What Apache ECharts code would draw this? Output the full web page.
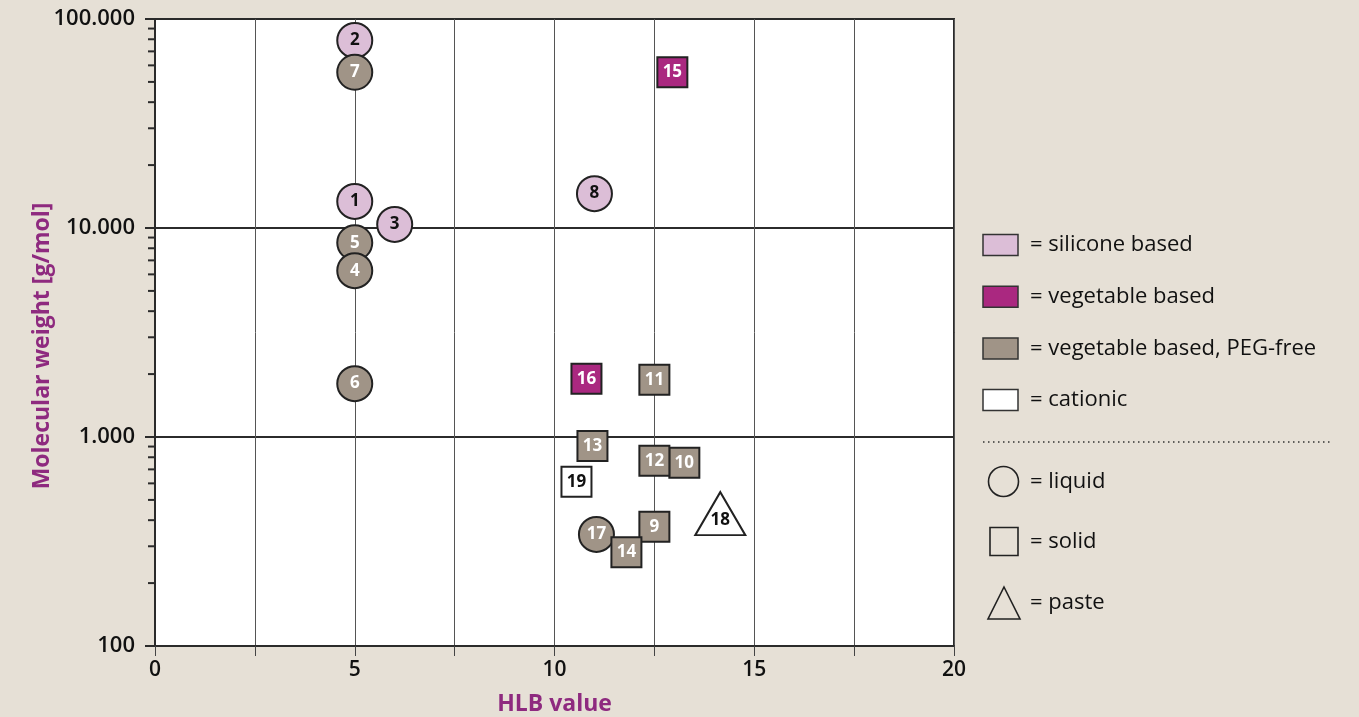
<!DOCTYPE html>
<html><head><meta charset="utf-8">
<script src="https://cdn.jsdelivr.net/npm/echarts@6/dist/echarts.min.js"></script>
<style>html,body{margin:0;padding:0;background:#e6e0d6;}#c{width:1359px;height:717px;}</style>
</head><body><div id="c"></div>
<script>
// ---- data (in drawing order) ----
const pointIds = [1, 2, 3, 5, 4, 6, 7, 8, 9, 10, 11, 12, 13, 17, 14, 15, 16, 18, 19];
const hlbValues = [5, 5, 6, 5, 5, 5, 5, 11, 12.5, 13.25, 12.5, 12.5, 10.95, 11.05, 11.8, 12.95, 10.8, 14.15, 10.55];
const molWeights = [13400, 79000, 10400, 8500, 6250, 1800, 55600, 14600, 372, 752, 1880, 770, 905, 342, 281, 55600, 1900, 430, 610];
const baseTypes = ['silicone','silicone','silicone','peg','peg','peg','peg','silicone','peg','peg','peg','peg','peg','peg','peg','veg','veg','cationic','cationic'];
const states = ['liquid','liquid','liquid','liquid','liquid','liquid','liquid','liquid','solid','solid','solid','solid','solid','liquid','solid','solid','solid','paste','solid'];
const xTickLabels = ['0', '5', '10', '15', '20'];
const yTickLabels = ['100', '1.000', '10.000', '100.000'];
const xAxisTitle = 'HLB value';
const yAxisTitle = 'Molecular weight [g/mol]';
const baseLegend = [['silicone', '= silicone based'], ['veg', '= vegetable based'], ['peg', '= vegetable based, PEG-free'], ['cationic', '= cationic']];
const stateLegend = [['liquid', '= liquid'], ['solid', '= solid'], ['paste', '= paste']];

// ---- styles ----
const FONT = '"Open Sans", sans-serif';
const TITLE_COLOR = '#8e2a7f';
const fills = { silicone: '#dcbed7', veg: '#aa2880', peg: '#a09487', cationic: '#ffffff' };
const labelColors = { silicone: '#111', veg: '#fff', peg: '#fff', cationic: '#111' };
const symbols = { liquid: 'circle', solid: 'rect', paste: 'triangle' };
const sizes = { liquid: 35, solid: 30, paste: [50, 43] };

const points = pointIds.map((id, i) => ({
  value: [hlbValues[i], molWeights[i]],
  name: String(id),
  symbol: symbols[states[i]],
  symbolSize: sizes[states[i]],
  itemStyle: { color: fills[baseTypes[i]], borderColor: '#222', borderWidth: 2, opacity: 1 },
  label: { color: labelColors[baseTypes[i]], offset: states[i] === 'paste' ? [0, 7] : [0, 0] }
}));

// log-axis minor tick positions (2..9 per decade)
const minorTicks = [];
[100, 1000, 10000].forEach(d => { for (let k = 2; k <= 9; k++) minorTicks.push([0, d * k]); });

const chart = echarts.init(document.getElementById('c'), null, { renderer: 'canvas' });

// legend + y title graphics
const graphics = [];
graphics.push({ type: 'text', x: 42, y: 346, rotation: Math.PI / 2,
  style: { text: yAxisTitle, font: 'bold 23px ' + FONT, fill: TITLE_COLOR, textAlign: 'center', textVerticalAlign: 'middle' } });
const lx = 983, ltx = 1030;
const LFONT = '22px ' + FONT;
baseLegend.forEach((b, i) => {
  const cy = 245 + i * 51.7;
  graphics.push({ type: 'rect', shape: { x: lx, y: cy - 10.5, width: 35, height: 21 },
    style: { fill: fills[b[0]], stroke: '#333', lineWidth: 1.5 } });
  graphics.push({ type: 'text', x: ltx, y: cy, style: { text: b[1], font: LFONT, fill: '#111', textVerticalAlign: 'middle' } });
});
graphics.push({ type: 'line', shape: { x1: 983, y1: 442, x2: 1332, y2: 442 },
  style: { stroke: '#333', lineWidth: 1.6, lineDash: [1.5, 3.5] } });
const sy = [481.5, 541.5, 603];
graphics.push({ type: 'circle', shape: { cx: 1003.5, cy: sy[0], r: 15 }, style: { fill: 'none', stroke: '#222', lineWidth: 1.6 } });
graphics.push({ type: 'rect', shape: { x: 990, y: sy[1] - 14, width: 28, height: 28 }, style: { fill: 'none', stroke: '#222', lineWidth: 1.6 } });
graphics.push({ type: 'polygon', shape: { points: [[1004, 587], [1020, 619], [988, 619]] }, style: { fill: 'none', stroke: '#222', lineWidth: 1.6 } });
stateLegend.forEach((s, i) => {
  graphics.push({ type: 'text', x: ltx, y: sy[i], style: { text: s[1], font: LFONT, fill: '#111', textVerticalAlign: 'middle' } });
});

function fmtY(v) {
  const idx = Math.round(Math.log10(v)) - 2;
  return yTickLabels[idx] !== undefined ? yTickLabels[idx] : '';
}
function fmtX(v) {
  if (Math.abs(v % 5) > 1e-6) return '';
  return xTickLabels[Math.round(v / 5)];
}

chart.setOption({
  backgroundColor: '#e6e0d6',
  animation: false,
  graphic: graphics,
  grid: { left: 155, right: 405, top: 19, bottom: 71, show: true, backgroundColor: '#ffffff', borderColor: '#2b2b2b', borderWidth: 2, containLabel: false, outerBoundsMode: 'none' },
  xAxis: {
    type: 'value', min: 0, max: 20, interval: 2.5,
    name: xAxisTitle, nameLocation: 'middle', nameGap: 47,
    nameTextStyle: { color: TITLE_COLOR, fontWeight: 'bold', fontSize: 23, fontFamily: FONT },
    axisLine: { show: true, lineStyle: { color: '#2b2b2b', width: 2 } },
    axisTick: { show: true, length: 10, lineStyle: { color: '#444', width: 1 } },
    axisLabel: { formatter: fmtX, color: '#111', fontSize: 21, fontWeight: 600, fontFamily: FONT, margin: 14 },
    splitLine: { show: true, lineStyle: { color: '#555', width: 1 } }
  },
  yAxis: {
    type: 'log', logBase: 10, min: 100, max: 100000,
    axisLine: { show: true, lineStyle: { color: '#2b2b2b', width: 2 } },
    axisTick: { show: true, length: 10, lineStyle: { color: '#2b2b2b', width: 2 } },
    axisLabel: { formatter: fmtY, color: '#111', fontSize: 22, fontWeight: 600, fontFamily: FONT, margin: 20 },
    splitLine: { show: true, lineStyle: { color: '#2b2b2b', width: 2 } }
  },
  series: [
    {
      type: 'custom', silent: true, clip: false, z: 1,
      data: minorTicks,
      renderItem: function (params, api) {
        const p = api.coord([0, api.value(1)]);
        return { type: 'line', shape: { x1: p[0] - 7, y1: p[1], x2: p[0], y2: p[1] },
          style: { stroke: '#2b2b2b', lineWidth: 2 } };
      }
    },
    {
      type: 'scatter', z: 3,
      data: points,
      label: { show: true, position: 'inside', formatter: p => p.name, fontSize: 17, fontWeight: 'bold', fontFamily: FONT }
    }
  ]
});
</script></body></html>
